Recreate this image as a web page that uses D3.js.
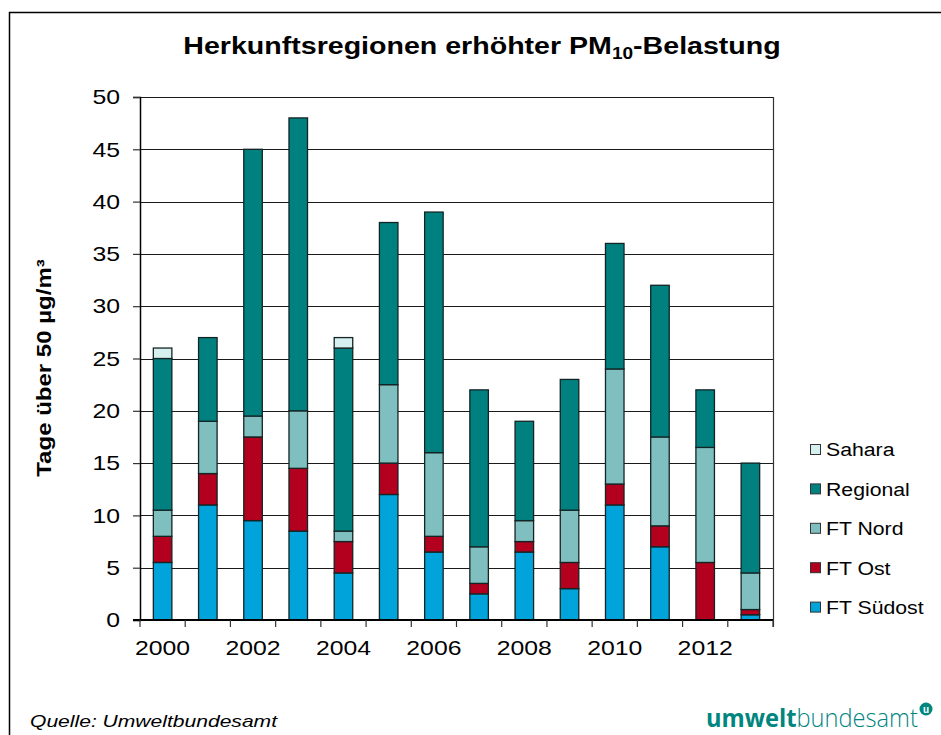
<!DOCTYPE html>
<html>
<head>
<meta charset="utf-8">
<script src="https://cdn.jsdelivr.net/npm/d3@7"></script>
<style>
  body { margin: 0; background: #fff; }
  svg { display: block; font-family: "Liberation Sans", Arial, sans-serif; }
</style>
</head>
<body>
<svg id="chart" width="941" height="735"></svg>
<script>
(() => {
    'use strict';

    // values (days above 50 µg/m³)
    const years = [2000, 2001, 2002, 2003, 2004, 2005, 2006, 2007, 2008, 2009, 2010, 2011, 2012, 2013];
    const ftSuedost = [5.5, 11, 9.5, 8.5, 4.5, 12, 6.5, 2.5, 6.5, 3, 11, 7, 0, 0.5];
    const ftOst     = [2.5, 3, 8, 6, 3, 3, 1.5, 1, 1, 2.5, 2, 2, 5.5, 0.5];
    const ftNord    = [2.5, 5, 2, 5.5, 1, 7.5, 8, 3.5, 2, 5, 11, 8.5, 11, 3.5];
    const regional  = [14.5, 8, 25.5, 28, 17.5, 15.5, 23, 15, 9.5, 12.5, 12, 14.5, 5.5, 10.5];
    const sahara    = [1, 0, 0, 0, 1, 0, 0, 0, 0, 0, 0, 0, 0, 0];
    const seriesNames = ['FT Südost', 'FT Ost', 'FT Nord', 'Regional', 'Sahara'];
    const seriesColors = ['#00a3da', '#b2001e', '#80bfbf', '#00807f', '#d6f0f0'];
    const yTicks = [0, 5, 10, 15, 20, 25, 30, 35, 40, 45, 50];
    const xLabels = [2000, 2002, 2004, 2006, 2008, 2010, 2012];

    const left = 140, right = 773, top = 97, bottom = 620;
    const wide = 1.18; // the reference text is drawn a bit wider than plain Arial
    const svg = d3.select('#chart');

    // widen text horizontally, anchor stays where it is
    const stretch = (sel, k) => {
        sel.each(function() {
            const w = this.getComputedTextLength();
            d3.select(this)
                .attr('textLength', w * k)
                .attr('lengthAdjust', 'spacingAndGlyphs');
        });
    };
    // scale a centred/left text so that it takes a given width
    const fitTo = (sel, width) => {
        const w = sel.node().getBBox().width;
        sel.attr('transform', `scale(${width / w},1)`);
    };

    // outer frame
    svg.append('rect')
        .attr('x', 9.5).attr('y', 12.5)
        .attr('width', 1000).attr('height', 1000)
        .attr('fill', 'none').attr('stroke', '#000').attr('stroke-width', 1.5);

    const rows = years.map((yr, i) => ({
        year: yr,
        'FT Südost': ftSuedost[i],
        'FT Ost': ftOst[i],
        'FT Nord': ftNord[i],
        'Regional': regional[i],
        'Sahara': sahara[i]
    }));

    const x = d3.scaleBand().domain(years).range([left, right]);
    const y = d3.scaleLinear().domain([0, 50]).range([bottom, top]);
    const color = d3.scaleOrdinal().domain(seriesNames).range(seriesColors);
    const stack = d3.stack().keys(seriesNames)(rows);
    const barW = x.bandwidth() * 0.41;

    // gridlines
    svg.append('g')
        .selectAll('line')
        .data(yTicks.filter(t => t > 0))
        .enter()
        .append('line')
        .attr('x1', left).attr('x2', right)
        .attr('y1', d => Math.round(y(d)) + 0.5)
        .attr('y2', d => Math.round(y(d)) + 0.5)
        .attr('stroke', '#1a1a1a').attr('stroke-width', 1.2);

    // right border of plot
    svg.append('line')
        .attr('x1', right + 0.5).attr('x2', right + 0.5)
        .attr('y1', y(50)).attr('y2', bottom + 7)
        .attr('stroke', '#333').attr('stroke-width', 1.2);

    // bars
    svg.append('g')
        .selectAll('g')
        .data(stack)
        .enter()
        .append('g')
        .attr('fill', d => color(d.key))
        .selectAll('rect')
        .data(d => d.filter(s => s[1] - s[0] > 0))
        .enter()
        .append('rect')
        .attr('x', d => x(d.data.year) + (x.bandwidth() - barW) / 2)
        .attr('width', barW)
        .attr('y', d => y(d[1]))
        .attr('height', d => y(d[0]) - y(d[1]))
        .attr('stroke', '#142424')
        .attr('stroke-width', 1.3);

    // y axis
    const yAxis = d3.axisLeft(y).tickValues(yTicks).tickSize(7).tickPadding(13);
    const gy = svg.append('g')
        .attr('transform', `translate(${left},0)`)
        .call(yAxis);
    gy.select('.domain').attr('stroke', '#000').attr('stroke-width', 1.5);
    gy.selectAll('.tick line').attr('stroke', '#333').attr('stroke-width', 1.2);
    gy.selectAll('.tick text')
        .attr('font-size', 21)
        .attr('font-family', '"Liberation Sans", Arial, sans-serif')
        .attr('fill', '#000')
        .call(stretch, wide);

    // x axis: ticks on category boundaries
    const bounds = years.map(d => x(d)).concat([right]);
    svg.append('line')
        .attr('x1', left - 7).attr('x2', right)
        .attr('y1', bottom).attr('y2', bottom)
        .attr('stroke', '#000').attr('stroke-width', 1.8);
    svg.append('g')
        .selectAll('line')
        .data(bounds)
        .enter()
        .append('line')
        .attr('x1', d => d).attr('x2', d => d)
        .attr('y1', bottom).attr('y2', bottom + 7)
        .attr('stroke', '#333').attr('stroke-width', 1.2);
    svg.append('g')
        .selectAll('text')
        .data(xLabels)
        .enter()
        .append('text')
        .attr('x', d => x(d) + x.bandwidth() / 2)
        .attr('y', 655)
        .attr('text-anchor', 'middle')
        .attr('font-size', 21)
        .text(d => d)
        .call(stretch, wide);

    // title
    const title = svg.append('g')
        .attr('transform', 'translate(482,54)')
        .append('text')
        .attr('text-anchor', 'middle')
        .attr('font-size', 24)
        .attr('font-weight', 'bold');
    title.append('tspan').text('Herkunftsregionen erhöhter PM');
    title.append('tspan').attr('font-size', 16).attr('dy', 5).text('10');
    title.append('tspan').attr('dy', -5).text('-Belastung');
    fitTo(title, 598);

    // y axis title
    const yTitle = svg.append('g')
        .attr('transform', 'translate(51,368) rotate(-90)')
        .append('text')
        .attr('text-anchor', 'middle')
        .attr('font-size', 20)
        .attr('font-weight', 'bold')
        .text('Tage über 50 µg/m³');
    fitTo(yTitle, 218);

    // legend, top entry first
    const legendItems = seriesNames.slice().reverse();
    const legend = svg.append('g')
        .selectAll('g')
        .data(legendItems)
        .enter()
        .append('g')
        .attr('transform', (d, i) => `translate(810,${450 + i * 39.4})`);
    legend.append('rect')
        .attr('x', 0.5).attr('y', -5.5)
        .attr('width', 10).attr('height', 10)
        .attr('fill', d => color(d))
        .attr('stroke', '#333').attr('stroke-width', 1);
    legend.append('text')
        .attr('x', 16).attr('y', 0)
        .attr('dy', '0.35em')
        .attr('font-size', 18)
        .text(d => d)
        .call(stretch, wide);

    // footer
    svg.append('text')
        .attr('x', 30).attr('y', 727)
        .attr('font-size', 17)
        .attr('font-style', 'italic')
        .attr('textLength', 247)
        .attr('lengthAdjust', 'spacingAndGlyphs')
        .text('Quelle: Umweltbundesamt');

    // logo
    const logo = svg.append('g')
        .attr('transform', 'translate(706,727)')
        .append('text')
        .attr('font-family', '"Open Sans", sans-serif')
        .attr('font-size', 25)
        .attr('fill', '#00857f');
    logo.append('tspan').attr('font-weight', 'bold').text('umwelt');
    logo.append('tspan').attr('font-weight', 300).text('bundesamt');
    fitTo(logo, 212);
    svg.append('circle')
        .attr('cx', 926).attr('cy', 709).attr('r', 6.5)
        .attr('fill', '#00857f');
    svg.append('text')
        .attr('x', 926).attr('y', 712.5)
        .attr('text-anchor', 'middle')
        .attr('font-size', 10)
        .attr('font-weight', 'bold')
        .attr('fill', '#fff')
        .text('u');
})();
</script>
</body>
</html>
